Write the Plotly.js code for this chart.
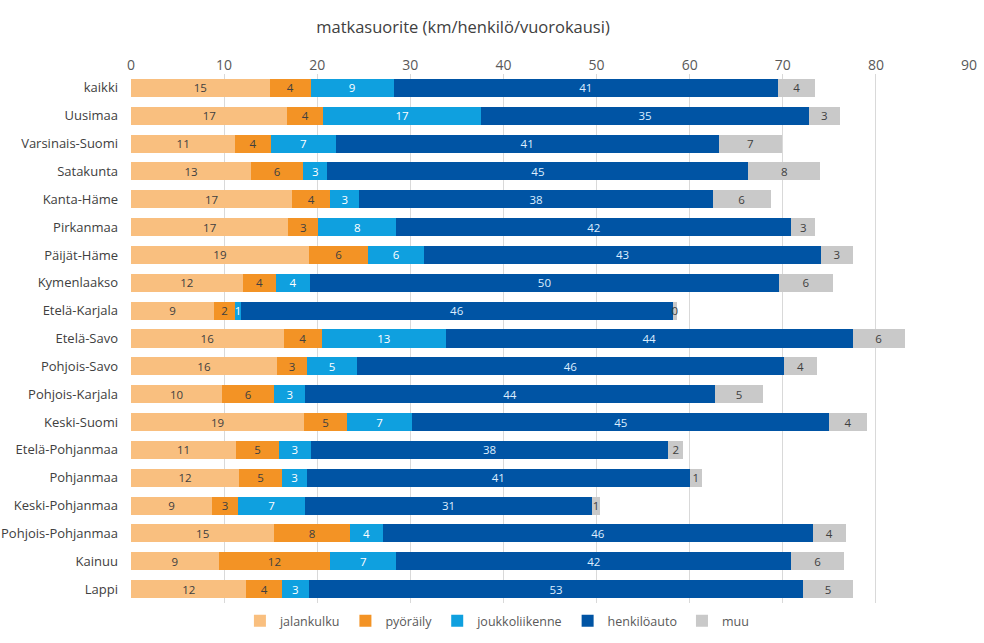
<!DOCTYPE html>
<html>
<head>
<meta charset="utf-8">
<script src="https://cdn.plot.ly/plotly-3.0.1.min.js"></script>
<style>html,body{margin:0;padding:0;background:#fff;}#chart{width:984px;height:643px;}</style>
</head>
<body>
<div id="chart"></div>
<script>
const regions = ["kaikki","Uusimaa","Varsinais-Suomi","Satakunta","Kanta-Häme","Pirkanmaa","Päijät-Häme","Kymenlaakso","Etelä-Karjala","Etelä-Savo","Pohjois-Savo","Pohjois-Karjala","Keski-Suomi","Etelä-Pohjanmaa","Pohjanmaa","Keski-Pohjanmaa","Pohjois-Pohjanmaa","Kainuu","Lappi"];
const jalankulku     = [14.9,16.8,11.2,12.9,17.3,16.9,19.1,12.0,8.9,16.4,15.7,9.8,18.6,11.3,11.6,8.7,15.4,9.4,12.4];
const pyoraily       = [4.4,3.8,3.8,5.6,4.1,3.2,6.4,3.6,2.3,4.1,3.2,5.6,4.6,4.6,4.6,2.8,8.1,12.0,3.8];
const joukkoliikenne = [8.9,17.0,7.0,2.6,3.1,8.4,6.0,3.6,0.6,13.3,5.4,3.3,7.0,3.4,2.7,7.2,3.6,7.1,2.9];
const henkiloauto    = [41.3,35.2,41.1,45.2,38.0,42.4,42.6,50.4,46.4,43.7,45.8,44.0,44.8,38.4,41.1,30.8,46.1,42.4,53.1];
const muu            = [4.0,3.3,6.8,7.7,6.2,2.6,3.4,5.8,0.4,5.6,3.6,5.2,4.0,1.6,1.3,0.9,3.6,5.7,5.3];
const xTicks = [0,10,20,30,40,50,60,70,80,90];

const series = [
  {name:"jalankulku", v:jalankulku, color:"#F9BF7F", tc:"#404040"},
  {name:"pyöräily", v:pyoraily, color:"#F39325", tc:"#404040"},
  {name:"joukkoliikenne", v:joukkoliikenne, color:"#0FA0DF", tc:"#FFFFFF"},
  {name:"henkilöauto", v:henkiloauto, color:"#0054A4", tc:"#DDEEFF"},
  {name:"muu", v:muu, color:"#C9C9C9", tc:"#404040"}
];
const font = "Open Sans, Noto Sans, sans-serif";
const traces = series.map(s => ({
  type:"bar", orientation:"h", name:s.name, x:s.v, y:regions,
  marker:{color:s.color, line:{width:0}},
  text:s.v.map(v => Math.round(v).toString()),
  textposition:"inside", insidetextanchor:"middle", constraintext:"none", textangle:0,
  textfont:{family:font, size:11.5, color:s.tc},
  hoverinfo:"none", cliponaxis:false
}));
const layout = {
  width:984, height:643, barmode:"stack", bargap:0.353,
  margin:{l:131, r:15, t:74, b:40, autoexpand:false},
  paper_bgcolor:"#fff", plot_bgcolor:"#fff",
  font:{family:font, color:"#595959"},
  title:{text:"matkasuorite (km/henkilö/vuorokausi)", x:0.4705, xanchor:"center", xref:"container", y:0.958, yref:"container", yanchor:"middle", font:{family:font, size:16.5, color:"#404040"}},
  xaxis:{side:"top", range:[0,90], tickvals:xTicks, ticktext:xTicks.map(String), showgrid:true, gridcolor:"#D9D9D9", gridwidth:1, zeroline:false, showline:false, ticks:"", automargin:false, tickfont:{family:font, size:14, color:"#595959"}, fixedrange:true},
  yaxis:{autorange:"reversed", showgrid:false, showline:false, ticks:"", ticklen:0, ticklabelstandoff:12, tickfont:{family:font, size:13, color:"#404040"}, automargin:false, fixedrange:true},
  showlegend:true,
  legend:{orientation:"h", x:0.505, xref:"container", xanchor:"center", y:0.034, yref:"container", yanchor:"middle", font:{family:font, size:12.5, color:"#595959"}, traceorder:"normal", itemwidth:30},
  hovermode:false
};
Plotly.newPlot("chart", traces, layout, {displayModeBar:false, staticPlot:true});
</script>
</body>
</html>
